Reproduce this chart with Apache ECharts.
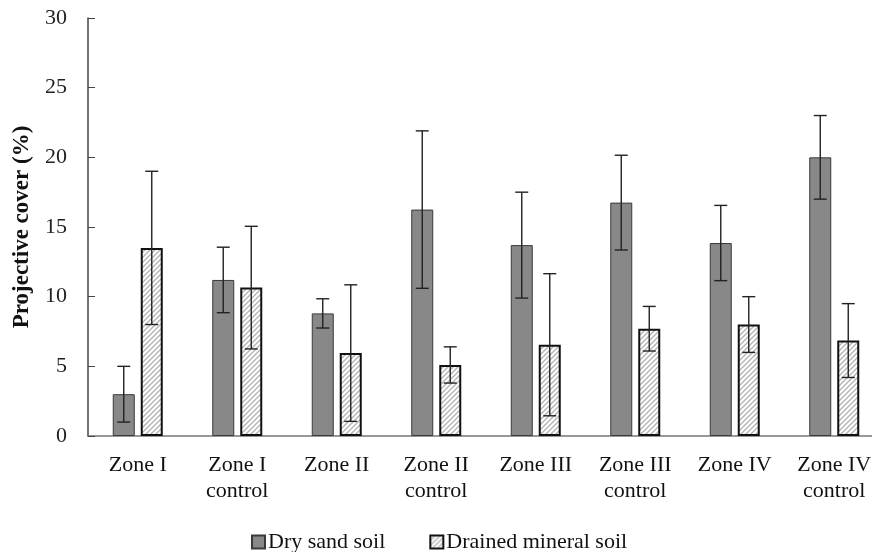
<!DOCTYPE html>
<html>
<head>
<meta charset="utf-8">
<script src="https://cdn.jsdelivr.net/npm/echarts@6/dist/echarts.min.js"></script>
<style>
  html, body { margin: 0; padding: 0; background: #fff; overflow: hidden; }
  /* the last category runs past the right edge of the picture, so the
     chart is a little wider than the window and gets cropped */
  #chart { width: 884px; height: 552px; }
</style>
</head>
<body>
<div id="chart"></div>
<script>
const categories = ['Zone I', 'Zone I\ncontrol', 'Zone II', 'Zone II\ncontrol',
  'Zone III', 'Zone III\ncontrol', 'Zone IV', 'Zone IV\ncontrol']
const drySand = [3.0, 11.2, 8.8, 16.25, 13.7, 16.75, 13.85, 20.0]
const drySandErr = [2.0, 2.35, 1.05, 5.65, 3.8, 3.4, 2.7, 3.0]
const drained = [13.5, 10.65, 5.95, 5.1, 6.55, 7.7, 8.0, 6.85]
const drainedErr = [5.5, 4.4, 4.9, 1.3, 5.1, 1.6, 2.0, 2.65]
const yTicks = [0, 5, 10, 15, 20, 25, 30]

const barWidth = 22
const gapPx = 6
const pairOffset = (barWidth + gapPx) / 2
const serif = '"Liberation Serif", "Times New Roman", serif'

// diagonal hatch tile for the drained soil bars
function hatch() {
  const c = document.createElement('canvas')
  c.width = 5
  c.height = 5
  const ctx = c.getContext('2d')
  ctx.fillStyle = '#ffffff'
  ctx.fillRect(0, 0, 5, 5)
  ctx.strokeStyle = '#b4b4b4'
  ctx.lineWidth = 1.4
  ctx.beginPath()
  ctx.moveTo(-1, 6); ctx.lineTo(6, -1)
  ctx.moveTo(-1, 1); ctx.lineTo(1, -1)
  ctx.moveTo(4, 6); ctx.lineTo(6, 4)
  ctx.stroke()
  return c
}

function errorBars(offset) {
  return function (params, api) {
    const i = api.value(0)
    const v = api.value(1)
    const e = api.value(2)
    const hi = api.coord([i, v + e])
    const lo = api.coord([i, v - e])
    const x = hi[0] + offset
    const style = { stroke: '#222', lineWidth: 1.4 }
    const cap = 6.5
    return {
      type: 'group',
      children: [
        { type: 'line', shape: { x1: x, y1: hi[1], x2: x, y2: lo[1] }, style },
        { type: 'line', shape: { x1: x - cap, y1: hi[1], x2: x + cap, y2: hi[1] }, style },
        { type: 'line', shape: { x1: x - cap, y1: lo[1], x2: x + cap, y2: lo[1] }, style }
      ]
    }
  }
}

const chart = echarts.init(document.getElementById('chart'))
chart.setOption({
  animation: false,
  grid: { left: 88, top: 18, right: 0, height: 418 },
  legend: {
    data: ['Dry sand soil', 'Drained mineral soil'],
    top: 526,
    left: 246,
    itemWidth: 13,
    itemHeight: 13,
    itemGap: 44,
    icon: 'rect',
    textStyle: { fontFamily: serif, fontSize: 22, color: '#111', padding: [0, 0, 0, -2] }
  },
  xAxis: {
    type: 'category',
    data: categories,
    axisLine: { lineStyle: { color: '#777', width: 1.5 } },
    axisTick: { inside: true, length: 6, lineStyle: { color: '#555' } },
    axisLabel: { fontFamily: serif, fontSize: 22, color: '#111', margin: 16, lineHeight: 26, interval: 0 }
  },
  yAxis: {
    type: 'value',
    min: yTicks[0],
    max: yTicks[yTicks.length - 1],
    interval: 5,
    name: 'Projective cover (%)',
    nameLocation: 'middle',
    nameGap: 54,
    nameTextStyle: { fontFamily: serif, fontSize: 23, fontWeight: 'bold', color: '#111' },
    axisLine: { show: true, lineStyle: { color: '#444', width: 1.5 } },
    axisTick: { show: true, inside: true, length: 7, lineStyle: { color: '#444' } },
    axisLabel: { fontFamily: serif, fontSize: 22, color: '#222', margin: 21 },
    splitLine: { show: false }
  },
  series: [
    {
      name: 'Dry sand soil',
      type: 'bar',
      data: drySand,
      barWidth: barWidth,
      barGap: (gapPx / barWidth * 100) + '%',
      itemStyle: { color: '#888888', borderColor: '#3a3a3a', borderWidth: 1 }
    },
    {
      name: 'Drained mineral soil',
      type: 'bar',
      data: drained,
      barWidth: barWidth,
      itemStyle: {
        color: { image: hatch(), repeat: 'repeat' },
        borderColor: '#111',
        borderWidth: 2
      }
    },
    {
      type: 'custom',
      z: 5,
      renderItem: errorBars(-pairOffset),
      encode: { x: 0, y: 1 },
      data: drySand.map((v, i) => [i, v, drySandErr[i]])
    },
    {
      type: 'custom',
      z: 5,
      renderItem: errorBars(pairOffset),
      encode: { x: 0, y: 1 },
      data: drained.map((v, i) => [i, v, drainedErr[i]])
    }
  ]
})
</script>
</body>
</html>
